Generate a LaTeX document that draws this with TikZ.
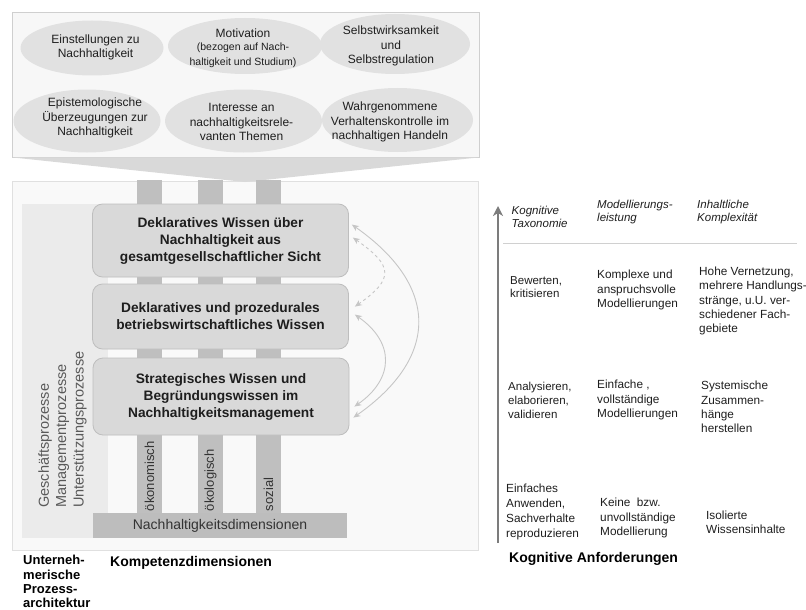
\documentclass[tikz,border=0pt]{standalone}
\usepackage{fontspec}
\setmainfont{Liberation Sans}
\usetikzlibrary{shapes.geometric,arrows.meta,calc}
\definecolor{panelfill}{HTML}{F7F7F7}
\definecolor{panelline}{HTML}{CFCFCF}
\definecolor{mainfill}{HTML}{F9F9F9}
\definecolor{mainline}{HTML}{E0E0E0}
\definecolor{ellfill}{HTML}{E1E1E1}
\definecolor{funnelc}{HTML}{D9D9D9}
\definecolor{procc}{HTML}{EBEBEB}
\definecolor{pillarc}{HTML}{BFBFBF}
\definecolor{dimc}{HTML}{BDBDBD}
\definecolor{boxfill}{HTML}{D9D9D9}
\definecolor{boxline}{HTML}{BEBEBE}
\definecolor{arrc}{HTML}{C6C6C6}
\definecolor{axisc}{HTML}{7C7C7C}
\definecolor{txt}{HTML}{1E1E1E}
\definecolor{dtxt}{HTML}{333333}
\definecolor{proctxt}{HTML}{595959}
\definecolor{rulec}{HTML}{D0D0D0}
\begin{document}
\begin{tikzpicture}[x=1pt,y=-1pt,
  ell/.style={ellipse, fill=ellfill, draw=none, inner sep=0pt},
  etext/.style={align=center, inner sep=0pt, text=txt, font=\fontsize{12}{14.5}\selectfont},
  kbox/.style={draw=boxline, fill=boxfill, line width=0.8pt, rounded corners=10pt, align=center,
    minimum width=256pt, inner sep=0pt, text=txt, font=\bfseries\fontsize{13.7}{17}\selectfont},
  pillar/.style={fill=pillarc, draw=none, inner sep=0pt, minimum width=25pt, minimum height=333pt},
  plabel/.style={rotate=90, anchor=west, inner sep=0pt, text=dtxt, font=\fontsize{13}{15}\selectfont},
  link/.style={draw=arrc, line width=0.9pt, {Stealth[length=7pt,width=6pt]}-{Stealth[length=7pt,width=6pt]}},
  hdr/.style={anchor=west, align=left, inner sep=0pt, text=txt, font=\itshape\fontsize{11.5}{13.5}\selectfont},
  cellA/.style={anchor=west, align=left, inner sep=0pt, text=txt, font=\fontsize{11.5}{14}\selectfont},
  cellB/.style={anchor=west, align=left, inner sep=0pt, text=txt, font=\fontsize{11.8}{14.3}\selectfont},
  title/.style={anchor=west, align=left, inner sep=0pt, text=black, font=\bfseries\fontsize{13.5}{14.3}\selectfont}
]
\useasboundingbox (0,0) rectangle (806,610);

% ---------- top panel ----------
\filldraw[fill=panelfill, draw=panelline, line width=0.8pt] (12,12) rectangle (479,157);
\node[ell, minimum width=143pt, minimum height=55pt] (e1) at (92,48) {};
\node[ell, minimum width=154pt, minimum height=56pt] (e2) at (245,46) {};
\node[ell, minimum width=150pt, minimum height=60pt] (e3) at (395,44) {};
\node[ell, minimum width=147pt, minimum height=63pt] (e4) at (87,121) {};
\node[ell, minimum width=157pt, minimum height=63pt] (e5) at (243.5,121) {};
\node[ell, minimum width=151pt, minimum height=64pt] (e6) at (397.5,120) {};
\node[etext] (t1) at (95.5,47.5) {Einstellungen zu\\Nachhaltigkeit};
\node[etext] (t2) at (243,48) {Motivation\\[-1pt]{\fontsize{10.5}{11.7}\selectfont (bezogen auf Nach-}\\{\fontsize{10.5}{11.7}\selectfont haltigkeit und Studium)}};
\node[etext] (t3) at (391,46) {Selbstwirksamkeit\\und\\Selbstregulation};
\node[etext] (t4) at (95,118) {Epistemologische\\Überzeugungen zur\\Nachhaltigkeit};
\node[etext] (t5) at (241.5,122) {Interesse an\\nachhaltigkeitsrele-\\vanten Themen};
\node[etext] (t6) at (390,122) {Wahrgenommene\\Verhaltenskontrolle im\\nachhaltigen Handeln};

% ---------- main panel ----------
\filldraw[fill=mainfill, draw=mainline, line width=0.8pt] (12,181) rectangle (478,550);
\fill[funnelc] (12,157.4) -- (479,157.4) -- (245,182) -- cycle;
\fill[procc] (22,204) rectangle (108,538);
\node[rotate=90, anchor=west, align=left, inner sep=0pt, text=proctxt,
  font=\fontsize{14.5}{17.5}\selectfont] (proc) at (62.5,508)
  {Geschäftsprozesse\\Managementprozesse\\Unterstützungsprozesse};

\node[pillar] (p1) at (149.5,346.5) {};
\node[pillar] (p2) at (210.5,346.5) {};
\node[pillar] (p3) at (268.5,346.5) {};

\node[fill=dimc, draw=none, inner sep=0pt, minimum width=254pt, minimum height=25pt,
  text=dtxt, font=\fontsize{14}{16}\selectfont] (dim) at (220,525.5) {Nachhaltigkeitsdimensionen};

\node[plabel] (l1) at ($(p1.south)+(0,-2)$) {ökonomisch};
\node[plabel] (l2) at ($(p2.south)+(0,-2)$) {ökologisch};
\node[plabel] (l3) at ($(p3.south)+(0,-2)$) {sozial};

\node[kbox, minimum height=73pt] (b1) at (220.5,240.5)
  {Deklaratives Wissen über\\Nachhaltigkeit aus\\gesamtgesellschaftlicher Sicht};
\node[kbox, minimum height=65pt] (b2) at (220.5,316.5)
  {Deklaratives und prozedurales\\betriebswirtschaftliches Wissen};
\node[kbox, minimum height=77pt] (b3) at (221,396.5)
  {Strategisches Wissen und\\Begründungswissen im\\Nachhaltigkeitsmanagement};

% ---------- curved links ----------
\coordinate (o1) at ($(b1.north east)+(3,21)$);
\coordinate (d1) at ($(b1.north east)+(4,34)$);
\coordinate (d2) at ($(b2.north east)+(6,23)$);
\coordinate (i1) at ($(b2.north east)+(6,31)$);
\coordinate (i2) at ($(b3.north east)+(5,49)$);
\coordinate (o2) at ($(b3.north east)+(4,60)$);
\draw[link] (o2) .. controls ($(o2)+(87,-61)$) and ($(o1)+(87,61)$) .. (o1);
\draw[link, dashed] (d1) .. controls ($(d1)+(40,28)$) and ($(d2)+(40,-28)$) .. (d2);
\draw[link] (i1) .. controls ($(i1)+(40,28)$) and ($(i2)+(40,-28)$) .. (i2);

% ---------- right table ----------
\coordinate (ax0) at (498,543);
\coordinate (ax1) at (498,206);
\draw[axisc, line width=2.2pt, -{Stealth[length=10pt,width=10pt,inset=3pt]}] (ax0) -- (ax1);
\coordinate (hr0) at (503,243);
\coordinate (hr1) at (797,243);
\draw[rulec, line width=0.8pt] (hr0) -- (hr1);

\node[hdr] (h1) at (511.5,217) {Kognitive\\Taxonomie};
\node[hdr] (h2) at (597,212) {Modellierungs-\\leistung};
\node[hdr] (h3) at (697,212) {Inhaltliche\\Komplexität};

\node[cellA, font=\fontsize{11.5}{12.5}\selectfont] (r1a) at (510,287) {Bewerten,\\kritisieren};
\node[cellB] (r1b) at (597,290) {Komplexe und\\anspruchsvolle\\Modellierungen};
\node[cellB] (r1c) at (699,301) {Hohe Vernetzung,\\mehrere Handlungs-\\stränge, u.U. ver-\\schiedener Fach-\\gebiete};

\node[cellA] (r2a) at (508,400) {Analysieren,\\elaborieren,\\validieren};
\node[cellB] (r2b) at (597,400) {Einfache ,\\vollständige\\Modellierungen};
\node[cellB] (r2c) at (701,407) {Systemische\\Zusammen-\\hänge\\herstellen};

\node[cellA, font=\fontsize{11.8}{15}\selectfont] (r3a) at (506,512) {Einfaches\\Anwenden,\\Sachverhalte\\reproduzieren};
\node[cellB] (r3b) at (600,518) {Keine\ \ bzw.\\unvollständige\\Modellierung};
\node[cellB] (r3c) at (706,522) {Isolierte\\Wissensinhalte};

% ---------- titles ----------
\node[title, font=\bfseries\fontsize{14}{16}\selectfont] (kog) at (509,559) {Kognitive Anforderungen};
\node[title, font=\bfseries\fontsize{14}{16}\selectfont] (komp) at (110,563) {Kompetenzdimensionen};
\node[title, font=\bfseries\fontsize{13}{14.3}\selectfont] (unt) at (23,581.5) {Unterneh-\\merische\\Prozess-\\architektur};
\end{tikzpicture}
\end{document}
